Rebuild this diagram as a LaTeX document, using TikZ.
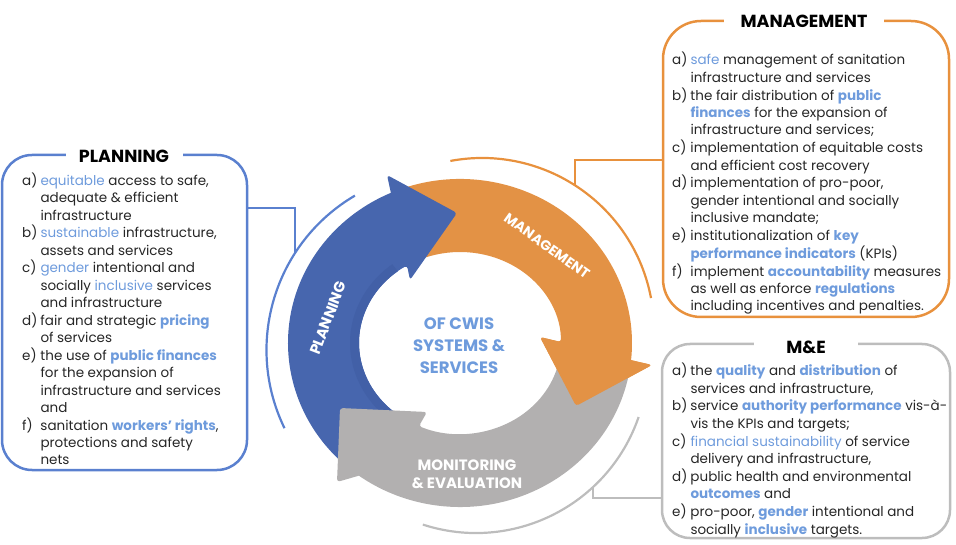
\documentclass[tikz,border=0pt]{standalone}
\usepackage{fontspec}
\setmainfont{Poppins}
\usetikzlibrary{calc}
\definecolor{txt}{HTML}{262626}
\definecolor{hlc}{HTML}{6E9BDC}
\definecolor{pblue}{HTML}{4766AE}
\definecolor{pblueD}{HTML}{4260A7}
\definecolor{morange}{HTML}{E39245}
\definecolor{egray}{HTML}{B2B0B0}
\definecolor{bblue}{HTML}{5A80CF}
\definecolor{borange}{HTML}{E8913D}
\definecolor{bgray}{HTML}{BDBDBD}
\newcommand{\hlt}[1]{\textcolor{hlc}{#1}}
\newcommand{\hlb}[1]{\textcolor{hlc}{\bfseries #1}}
\begin{document}
\begin{tikzpicture}[x=1pt,y=-1pt,
  infobox/.style={draw=#1, line width=2.5pt},
  boxtitle/.style={fill=white, text=black, inner xsep=0pt, inner ysep=2pt,
    font=\fontsize{17.5}{20}\selectfont\bfseries},
  listtext/.style={anchor=base west, inner sep=0pt, text=txt},
  arclabel/.style={text=white, inner sep=0pt, font=\fontsize{15}{18.5}\selectfont\bfseries},
  conn/.style={line width=2.2pt}]
\useasboundingbox (0,0) rectangle (956,545);
\coordinate (C) at (460,343);

% ---- arrows of the cycle ----
\fill[morange] ($(C)+(250:172 and 164)$)
  arc[start angle=250, end angle=366, x radius=172, y radius=164]
  [rounded corners=3pt] -- (652,365) -- (576,406) -- (540,337)
  -- ($(C)+(359.4:101 and 91)$) [sharp corners]
  arc[start angle=359.4, end angle=250, x radius=101, y radius=91] -- cycle;
\fill[pblue] ($(C)+(128:172 and 164)$)
  arc[start angle=128, end angle=246.3, x radius=172, y radius=164]
  [rounded corners=3pt] -- (387,175) -- (457,213) -- (410,280)
  -- ($(C)+(238.4:101 and 91)$) [sharp corners]
  arc[start angle=238.4, end angle=128, x radius=101, y radius=91] -- cycle;
\fill[pblueD] ($(C)+(130:101 and 91)$)
  arc[start angle=130, end angle=232, x radius=101, y radius=91]
  -- ($(C)+(232:110 and 100)$)
  arc[start angle=232, end angle=130, x radius=110, y radius=100] -- cycle;
\fill[egray] ($(C)+(10:172 and 164)$)
  arc[start angle=10, end angle=126, x radius=172, y radius=164]
  [rounded corners=3pt] -- (337,482) -- (340,408) -- (427,412)
  -- ($(C)+(114:101 and 91)$) [sharp corners]
  arc[start angle=114, end angle=10, x radius=101, y radius=91] -- cycle;
\fill[morange, rounded corners=3pt] ($(C)+(6:172 and 164)$) -- (652,365) -- (576,406)
  -- (540,337) -- ($(C)+(359.4:101 and 91)$) -- cycle;

% ---- labels in the ring ----
\node[arclabel, rotate=69] (plbl) at (328,318) {PLANNING};
\node[arclabel, rotate=-35.6, font=\fontsize{14}{17}\selectfont\bfseries] (mlbl) at (547,246) {MANAGEMENT};
\node[arclabel, align=center] (elbl) at (467,474) {MONITORING\\\& EVALUATION};
\node[text=hlc, align=center, font=\fontsize{16.5}{22}\selectfont\bfseries] (ctr) at (459,346) {OF CWIS\\SYSTEMS \&\\SERVICES};

% ---- thin outer arcs ----
\draw[conn, bblue] ($(445.5,350)+(154.1:179)$) arc[start angle=154.1, end angle=239.6, radius=179];
\draw[conn, borange] ($(482,330)+(-100.6:172)$) arc[start angle=-100.6, end angle=-10.7, radius=172];
\draw[conn, bgray] ($(476,361)+(19:172)$) arc[start angle=19, end angle=108, radius=172];

% ---- boxes ----
\node[infobox=bblue, rounded corners=30pt, minimum width=245, minimum height=315] (plan) at (124.5,312.5) {};
\node[infobox=borange, rounded corners=38pt, minimum width=286, minimum height=296] (mgmt) at (806,169) {};
\node[infobox=bgray, rounded corners=28pt, minimum width=288, minimum height=194] (mne) at (806,441) {};

\node[boxtitle, minimum width=117] (plant) at (124,156) {PLANNING};
\node[boxtitle, minimum width=160] (mgmtt) at (804,21) {MANAGEMENT};
\node[boxtitle, minimum width=104] (mnet) at (806,347) {M\&E};

% ---- connectors ----
\coordinate (pArc) at (295,253);
\coordinate (pJ) at (295,208);
\coordinate (mArc) at (575,185);
\coordinate (mJ) at (575,160);
\coordinate (eArc) at (593,488);
\coordinate (eJ) at (593,498);
\draw[conn, bblue] (plan.east |- pJ) -- (pJ) -- (pArc);
\draw[conn, borange] (mgmt.west |- mJ) -- (mJ) -- (mArc);
\draw[conn, bgray] (mne.west |- eJ) -- (eJ) -- (eArc);

% ---- texts ----
\node[listtext, font=\fontsize{13.5}{17.3}\selectfont] (plist) at (22,185.5) {%
\begin{tabular}[t]{@{}p{18.3pt}@{}l@{}}
a) & \hlt{equitable} access to safe,\\
   & adequate \& efficient\\
   & infrastructure\\
b) & \hlt{sustainable} infrastructure,\\
   & assets and services\\
c) & \hlt{gender} intentional and\\
   & socially \hlt{inclusive} services\\
   & and infrastructure\\
d) & fair and strategic \hlb{pricing}\\
   & of services\\
e) & the use of \hlb{public finances}\\
   & for the expansion of\\
   & infrastructure and services\\
   & and\\
f) & sanitation \hlb{workers' rights},\\
   & protections and safety\\
   & nets
\end{tabular}};

\node[listtext, font=\fontsize{13.5}{17.38}\selectfont] (mlist) at (672,65) {%
\begin{tabular}[t]{@{}p{18.3pt}@{}l@{}}
a) & \hlt{safe} management of sanitation\\
   & infrastructure and services\\
b) & the fair distribution of \hlb{public}\\
   & \hlb{finances} for the expansion of\\
   & infrastructure and services;\\
c) & implementation of equitable costs\\
   & and efficient cost recovery\\
d) & implementation of pro-poor,\\
   & gender intentional and socially\\
   & inclusive mandate;\\
e) & institutionalization of \hlb{key}\\
   & \hlb{performance indicators} (KPIs)\\
f) & implement \hlb{accountability} measures\\
   & as well as enforce \hlb{regulations}\\
   & including incentives and penalties.
\end{tabular}};

\node[listtext, font=\fontsize{13.5}{17.4}\selectfont] (elist) at (672,375.7) {%
\begin{tabular}[t]{@{}p{18.3pt}@{}l@{}}
a) & the \hlb{quality} and \hlb{distribution} of\\
   & services and infrastructure,\\
b) & service \hlb{authority performance} vis-à-\\
   & vis the KPIs and targets;\\
c) & \hlt{financial sustainability} of service\\
   & delivery and infrastructure,\\
d) & public health and environmental\\
   & \hlb{outcomes} and\\
e) & pro-poor, \hlb{gender} intentional and\\
   & socially \hlb{inclusive} targets.
\end{tabular}};
\end{tikzpicture}
\end{document}
